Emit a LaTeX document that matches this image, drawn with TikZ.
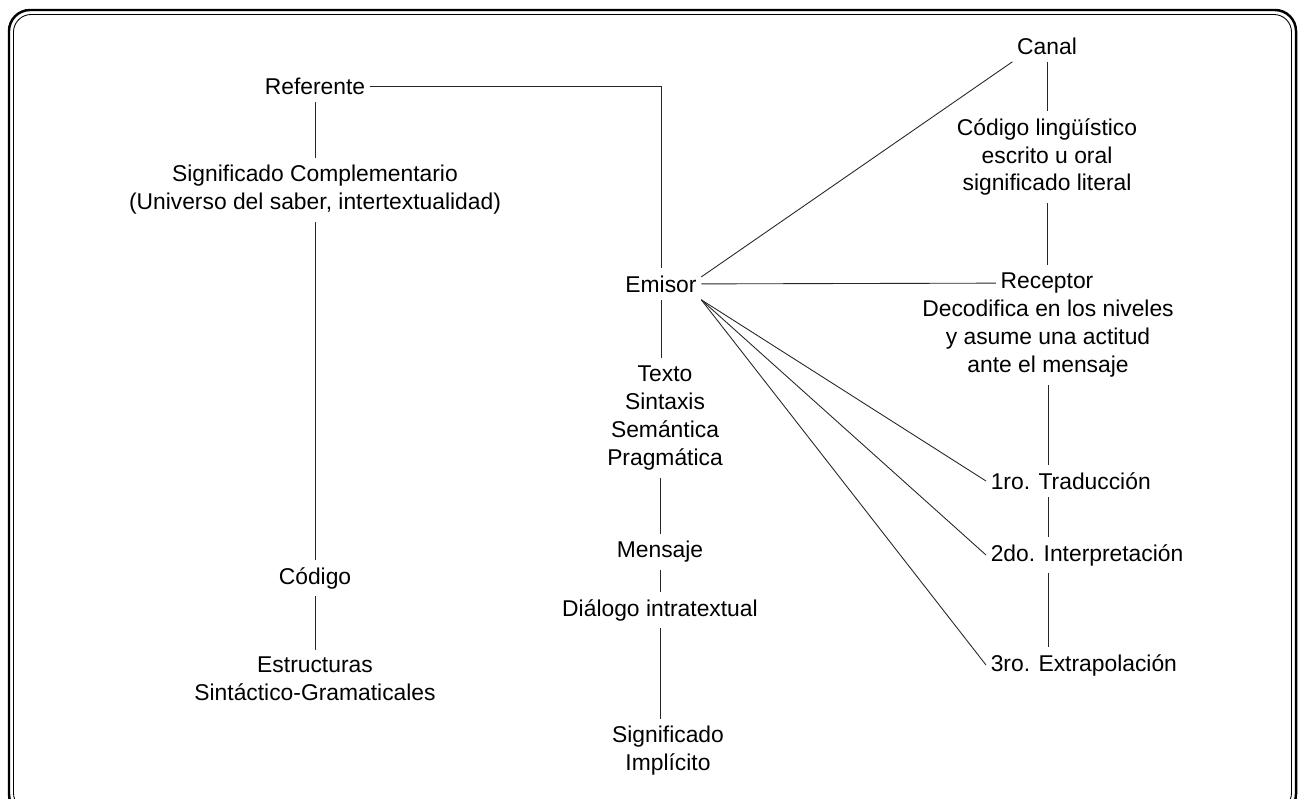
\documentclass[tikz,border=0pt]{standalone}
\usepackage{fontspec}
\setmainfont{Liberation Sans}

\begin{document}
\begin{tikzpicture}[x=0.02cm,y=-0.02cm,
    lbl/.style={align=center,inner xsep=2.5pt,inner ysep=4pt,font=\fontsize{13}{15.9}\selectfont},
    con/.style={draw=black!85,line width=0.5pt}]
  \useasboundingbox (0,0) rectangle (1304,798);
  \clip (0,0) rectangle (1304,798);
  % double frame, open at the bottom
  \draw[line width=1.4pt,rounded corners=12pt] (9,10) rectangle (1296,815);
  \draw[line width=0.5pt,rounded corners=10pt] (13.5,14.5) rectangle (1291.5,810.5);

  % left column
  \node[lbl] (ref) at (315,86) {Referente};
  \node[lbl] (sigc) at (315,190) {Significado Complementario\\(Universo del saber, intertextualidad)};
  \node[lbl] (cod) at (315,578) {Código};
  \node[lbl] (est) at (315,679) {Estructuras\\Sintáctico-Gramaticales};

  % middle column
  \node[lbl] (emi) at (661,284) {Emisor};
  \node[lbl] (txt) at (665,418) {Texto\\Sintaxis\\Semántica\\Pragmática};
  \node[lbl] (men) at (660,552) {Mensaje};
  \node[lbl] (dia) at (660,610) {Diálogo intratextual};
  \node[lbl] (imp) at (668,751) {Significado\\Implícito};

  % right column
  \node[lbl] (can) at (1047,46) {Canal};
  \node[lbl] (cl) at (1047,157) {Código lingüístico\\escrito u oral\\significado literal};
  \node[lbl] (rec) at (1047,283) {Receptor};
  \node[lbl] (dec) at (1048,339) {Decodifica en los niveles\\y asume una actitud\\ante el mensaje};
  \node[lbl,anchor=west] (t1) at (986,481) {1ro. Traducción};
  \node[lbl,anchor=west] (t2) at (986,555) {2do. Interpretación};
  \node[lbl,anchor=west] (t3) at (986,665) {3ro. Extrapolación};

  % connectors
  \draw[con] (ref) -| (emi);
  \draw[con] (ref) -- (sigc);
  \draw[con] (sigc) -- (cod);
  \draw[con] (cod) -- (est);
  \draw[con] (emi) -- (emi |- txt.north);
  \draw[con] (txt.south -| men) -- (men);
  \draw[con] (men) -- (dia);
  \draw[con] (dia) -- (dia |- imp.north);
  \draw[con] (emi.10) -- (can.south west);
  \draw[con] (emi) -- (rec);
  \draw[con] (emi.south east) -- (t1.west);
  \draw[con] (emi.south east) -- (t2.west);
  \draw[con] (emi.south east) -- (t3.west);
  \draw[con] (can) -- (cl);
  \draw[con] (cl) -- (rec);
  \draw[con] (dec) -- (dec |- t1.north);
  \draw[con] (t1.south -| dec) -- (t2.north -| dec);
  \draw[con] (t2.south -| dec) -- (t3.north -| dec);
\end{tikzpicture}
\end{document}
